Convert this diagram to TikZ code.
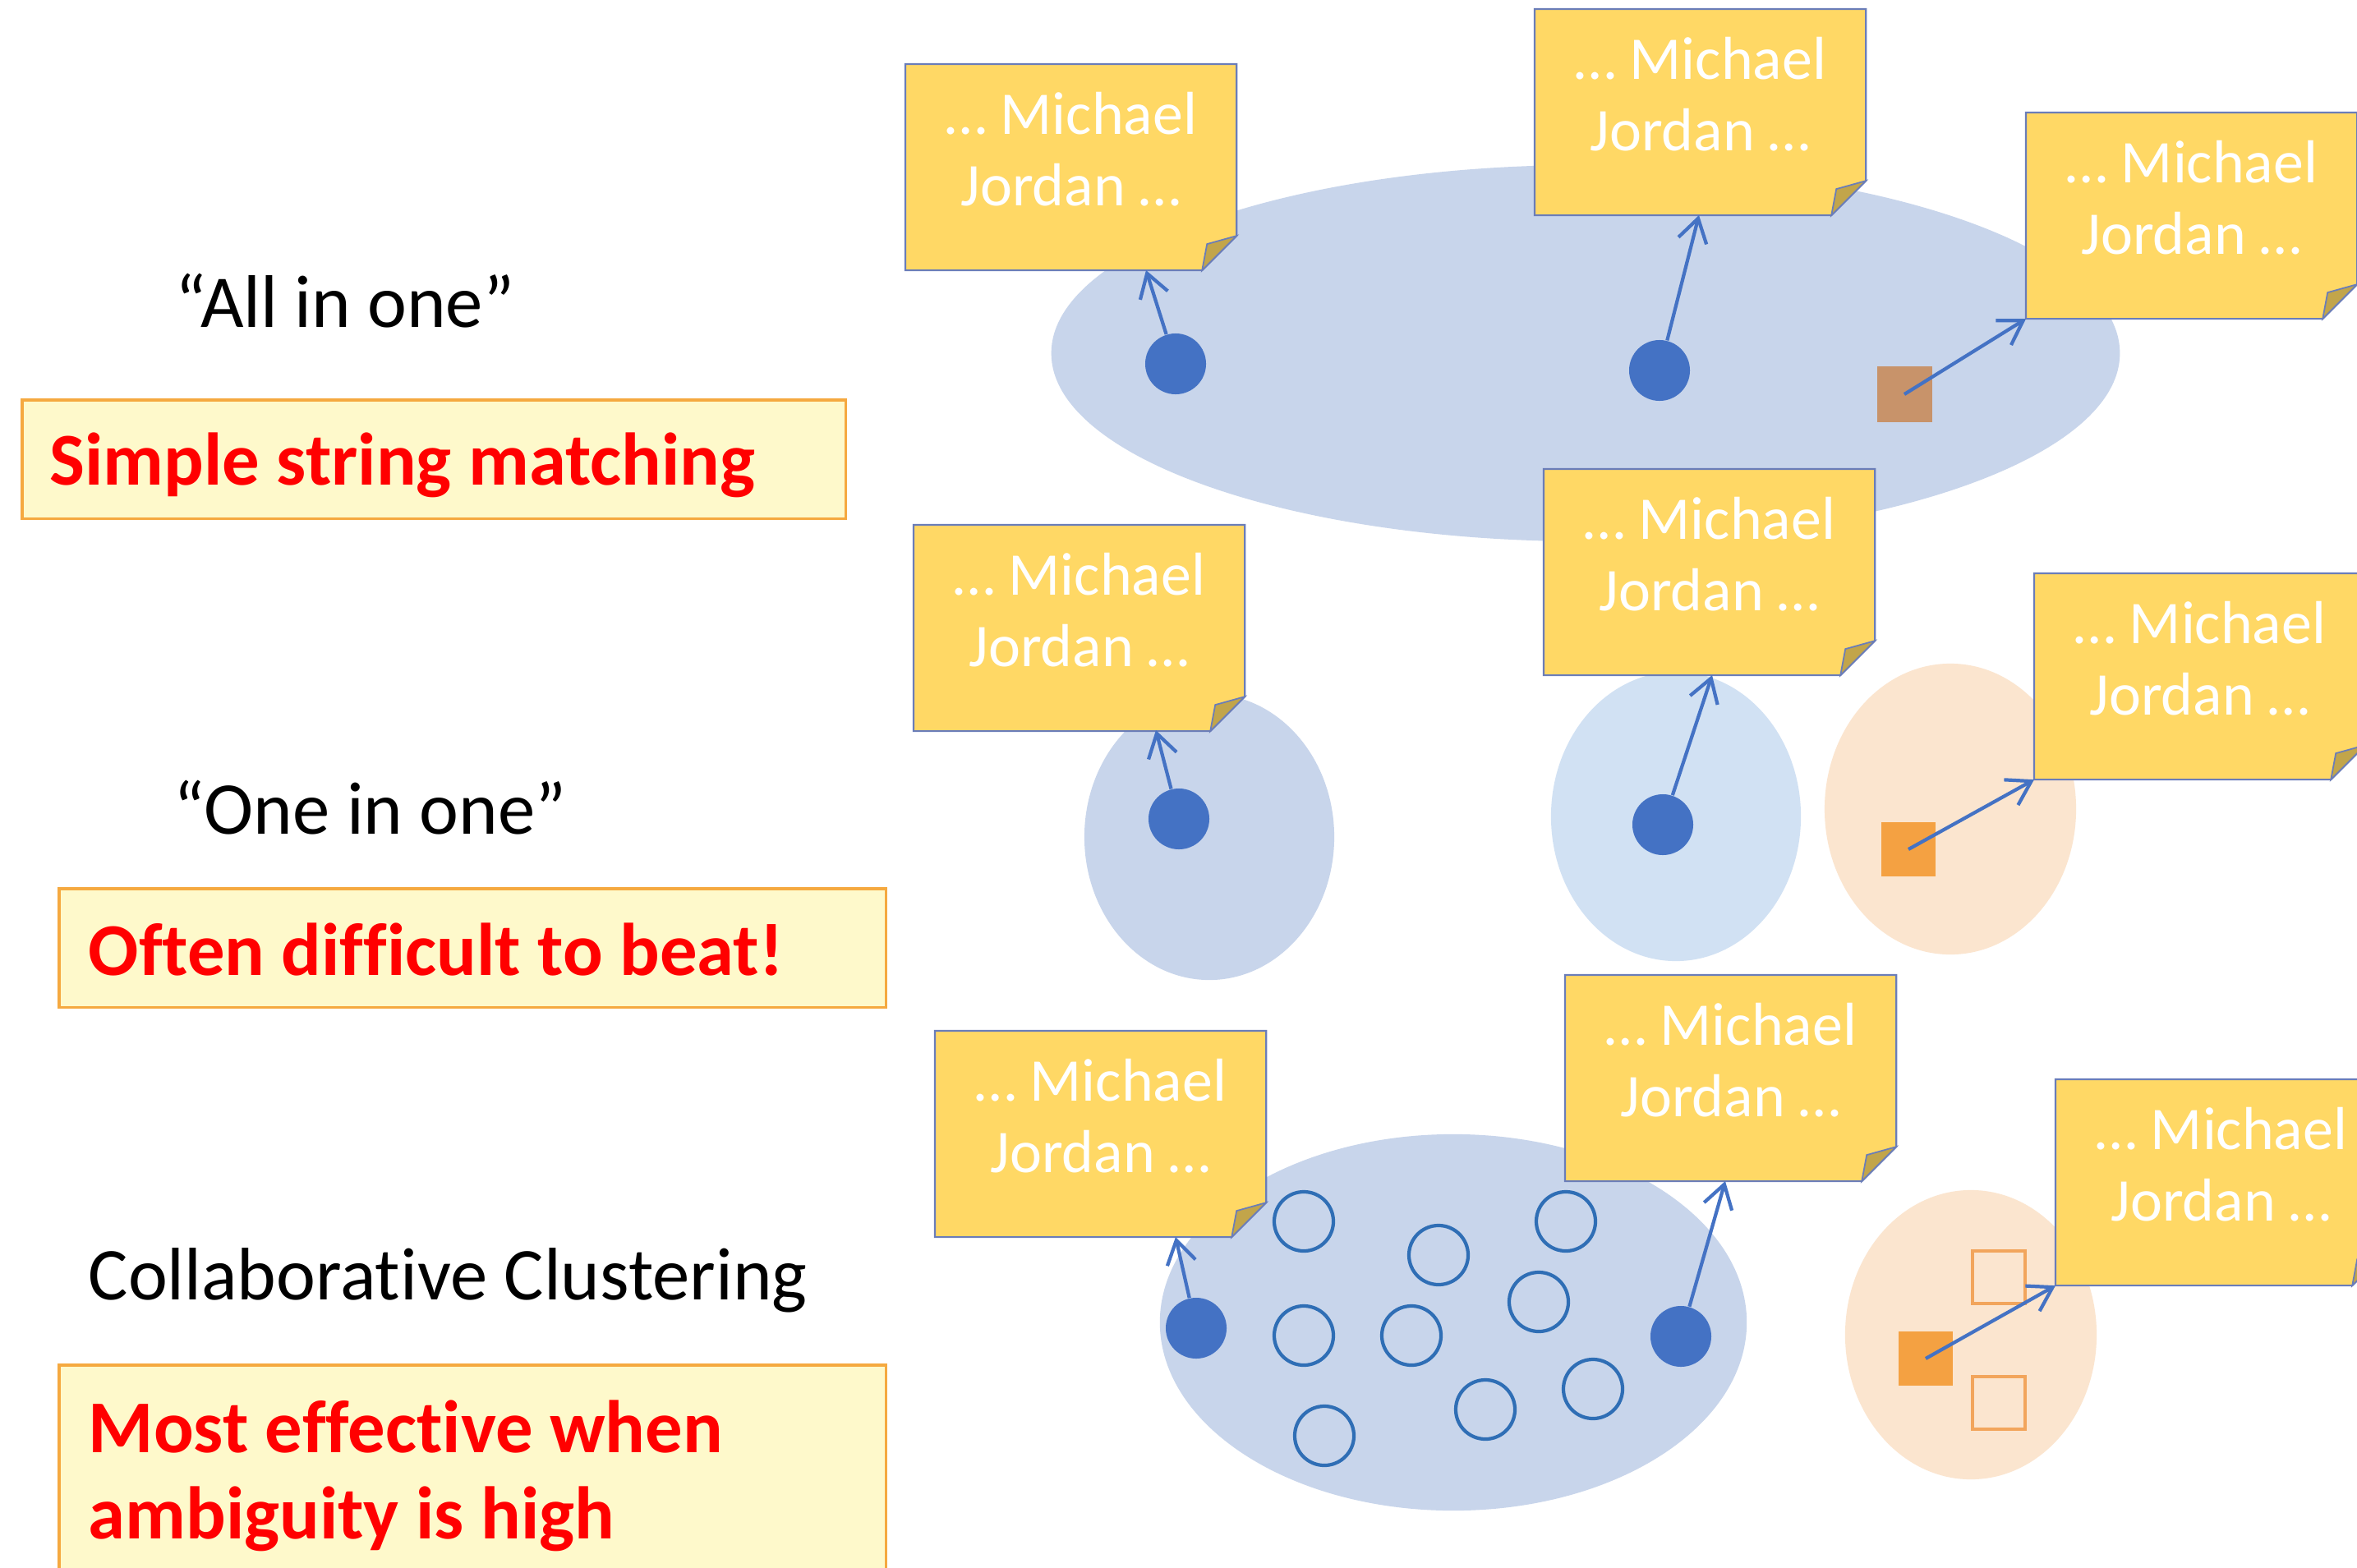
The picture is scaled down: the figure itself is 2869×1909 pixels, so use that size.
\documentclass[tikz,border=0pt]{standalone}
\usepackage{fontspec}
\setmainfont{Carlito}[Ligatures=NoCommon]
\usetikzlibrary{arrows.meta,calc}
\definecolor{notefill}{HTML}{FFD865}
\definecolor{noteline}{HTML}{6A7DB9}
\definecolor{foldfill}{HTML}{C2A54A}
\definecolor{ellblue}{HTML}{C8D5EB}
\definecolor{elllight}{HTML}{D1E1F3}
\definecolor{peach}{HTML}{FBE5CF}
\definecolor{dotblue}{HTML}{4472C4}
\definecolor{circline}{HTML}{2F6EB5}
\definecolor{brownsq}{HTML}{C8936A}
\definecolor{orangesq}{HTML}{F4A142}
\definecolor{orangeline}{HTML}{F2A55C}
\definecolor{boxfill}{HTML}{FEF9CB}
\definecolor{boxline}{HTML}{F5A940}
\definecolor{redtext}{HTML}{FF0000}
\tikzset{
  notebody/.style={rectangle, draw=none, inner sep=0pt, outer sep=0pt, minimum width=4.03cm, minimum height=2.51cm},
  noteshape/.style={fill=notefill, draw=noteline, line width=0.6pt, line join=miter},
  foldshape/.style={fill=foldfill, draw=noteline, line width=0.5pt},
  notetext/.style={text=white, font=\fontsize{21pt}{25pt}\selectfont, inner sep=0pt},
  bigdot/.style={circle, fill=dotblue, draw=none, minimum size=0.74cm, inner sep=0pt},
  opendot/.style={circle, draw=circline, line width=1.2pt, minimum size=0.72cm, inner sep=0pt},
  fullsq/.style={rectangle, draw=none, minimum size=0.66cm, inner sep=0pt},
  opensq/.style={rectangle, draw=orangeline, line width=0.9pt, minimum size=0.64cm, inner sep=0pt},
  pointer/.style={draw=dotblue, line width=1.2pt, -{Straight Barb[length=8pt,width=10pt]}},
  redbox/.style={rectangle, fill=boxfill, draw=boxline, line width=0.9pt, inner sep=0pt, outer sep=0pt},
  redlabel/.style={text=redtext, font=\bfseries\fontsize{25.8pt}{30pt}\selectfont, inner sep=0pt},
  blacklabel/.style={text=black, font=\fontsize{25.8pt}{30pt}\selectfont, inner sep=0pt}
}
\newcommand\stickynote[3]{%
  \node[notebody, anchor=north west] (#1) at (#2,#3) {};
  \draw[noteshape] (#1.north west) -- (#1.north east) -- ([yshift=0.42cm]#1.south east)
     -- ([xshift=-0.42cm]#1.south east) -- (#1.south west) -- cycle;
  \draw[foldshape] ([xshift=-0.42cm]#1.south east) -- ([yshift=0.42cm]#1.south east)
     -- ([xshift=-0.36cm,yshift=0.32cm]#1.south east) -- cycle;
  \node[notetext, anchor=base] (#1-1) at ([yshift=-0.85cm]#1.north) {… Michael};
  \node[notetext, anchor=base] (#1-2) at ([yshift=-1.72cm]#1.north) {Jordan …};
}
\begin{document}
\begin{tikzpicture}[x=0.01cm, y=-0.01cm]
\useasboundingbox (0,0) rectangle (2869,1909);
\clip (0,0) rectangle (2869,1909);
\fill[white] (0,0) rectangle (2869,1909);

% ---------- left column ----------
\node[blacklabel, anchor=base west] (allone) at (213,398) {“All in one”};
\node[redbox, anchor=north west, minimum width=10.02cm, minimum height=1.44cm] (box1) at (27,487) {};
\node[redlabel, anchor=base west] (box1t) at (60,590) {Simple string matching};

\node[blacklabel, anchor=base west] (oneone) at (211,1015) {“One in one”};
\node[redbox, anchor=north west, minimum width=10.06cm, minimum height=1.44cm] (box2) at (72,1082) {};
\node[redlabel, anchor=base west] (box2t) at (107,1187) {Often difficult to beat!};

\node[blacklabel, anchor=base west] (collab) at (107,1582) {Collaborative Clustering};
\node[redbox, anchor=north west, minimum width=10.06cm, minimum height=3.2cm] (box3) at (72,1662) {};
\node[redlabel, anchor=base west] (box3a) at (107,1768) {Most effective when};
\node[redlabel, anchor=base west] (box3b) at (107,1873) {ambiguity is high};

% ---------- clusters ----------
\fill[ellblue] (1930,430) ellipse [x radius=6.50cm, y radius=2.29cm];
\fill[ellblue] (1472,1019) ellipse [x radius=1.52cm, y radius=1.74cm];
\fill[elllight] (2040,994) ellipse [x radius=1.52cm, y radius=1.76cm];
\fill[peach] (2374,985) ellipse [x radius=1.53cm, y radius=1.77cm];
\fill[ellblue] (1769,1610) ellipse [x radius=3.57cm, y radius=2.29cm];
\fill[peach] (2399,1625) ellipse [x radius=1.53cm, y radius=1.76cm];

% ---------- sticky notes ----------
\stickynote{nA}{1102}{78}
\stickynote{nB}{1868}{11}
\stickynote{nC}{2466}{137}
\stickynote{nD}{1112}{639}
\stickynote{nE}{1879}{571}
\stickynote{nF}{2476}{698}
\stickynote{nG}{1138}{1255}
\stickynote{nH}{1905}{1187}
\stickynote{nI}{2502}{1314}

% ---------- mentions ----------
\node[bigdot] (d1) at (1431,443) {};
\node[bigdot] (d2) at (2020,451) {};
\node[fullsq, fill=brownsq, minimum size=0.67cm] (s1) at (2318,480) {};

\node[bigdot] (dD) at (1435,997) {};
\node[bigdot] (dE) at (2024,1004) {};
\node[fullsq, fill=orangesq] (sF) at (2323,1034) {};

\node[bigdot] (dG1) at (1456,1617) {};
\node[bigdot] (dG2) at (2046,1627) {};
\foreach \cx/\cy [count=\i] in {1587/1487, 1751/1528, 1906/1487, 1587/1626, 1718/1626,
   1873/1585, 1939/1691, 1808/1716, 1612/1748}
  \node[opendot] (c\i) at (\cx,\cy) {};

\node[opensq] (sI2) at (2433,1555) {};
\node[opensq] (sI3) at (2433,1708) {};
\node[fullsq, fill=orangesq] (sI) at (2344,1654) {};

% ---------- arrow targets ----------
\coordinate (tA) at (1395,329);
\coordinate (tB) at (2068,262);
\coordinate (tD) at (1407,889);
\coordinate (tE) at (2084,822);
\coordinate (tG1) at (1431,1506);
\coordinate (tG2) at (2100,1438);

% ---------- arrows ----------
\draw[pointer] (d1) -- (tA);
\draw[pointer] (d2) -- (tB);
\draw[pointer] (s1.center) -- (nC.south west);
\draw[pointer] (dD) -- (tD);
\draw[pointer] (dE) -- (tE);
\draw[pointer] (sF.center) -- (nF.south west);
\draw[pointer] (dG1) -- (tG1);
\draw[pointer] (dG2) -- (tG2);
\draw[pointer] (sI.center) -- (nI.south west);
\end{tikzpicture}
\end{document}
